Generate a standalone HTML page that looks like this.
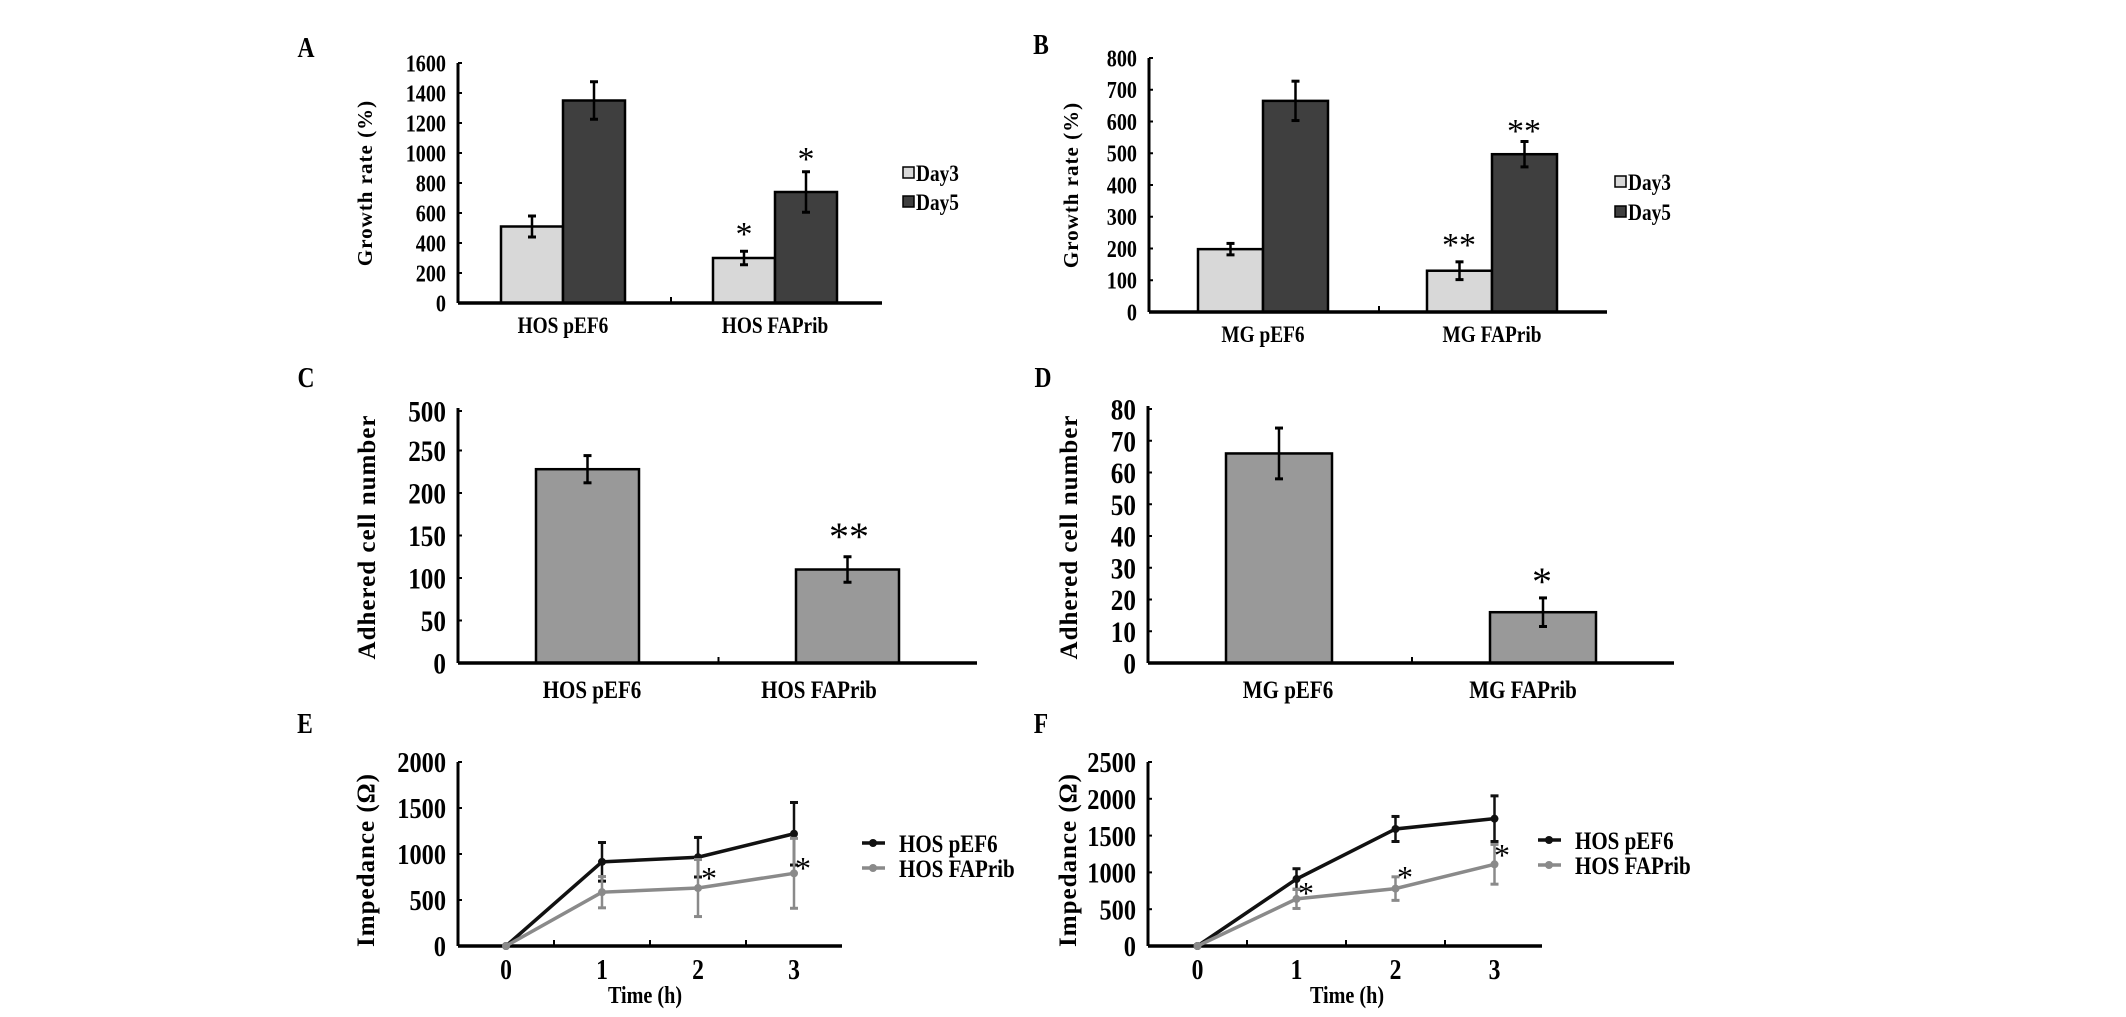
<!DOCTYPE html>
<html><head><meta charset="utf-8"><style>
html,body{margin:0;padding:0;background:#fff;}
svg{display:block;font-family:"Liberation Serif",serif;font-weight:bold;}
</style></head><body>
<svg id="fig" width="2126" height="1017" viewBox="0 0 2126 1017" xmlns="http://www.w3.org/2000/svg">
<text x="306" y="57" font-size="28" text-anchor="middle">A</text>
<text x="1041" y="54" font-size="28" text-anchor="middle">B</text>
<text x="306" y="387" font-size="28" text-anchor="middle">C</text>
<text x="1043" y="387" font-size="28" text-anchor="middle">D</text>
<text x="305" y="733" font-size="28" text-anchor="middle">E</text>
<text x="1041" y="733" font-size="28" text-anchor="middle">F</text>
</svg>
<script>
// ---- Panel A data ----
const aCategories = ["HOS pEF6", "HOS FAPrib"];
const aDay3 = [510, 300];
const aDay3Err = [70, 45];
const aDay5 = [1350, 740];
const aDay5Err = [125, 135];
const aTicks = [0, 200, 400, 600, 800, 1000, 1200, 1400, 1600];
// ---- Panel B data ----
const bCategories = ["MG pEF6", "MG FAPrib"];
const bDay3 = [198, 130];
const bDay3Err = [18, 28];
const bDay5 = [665, 497];
const bDay5Err = [62, 40];
const bTicks = [0, 100, 200, 300, 400, 500, 600, 700, 800];
// ---- Panel C data ----
const cCategories = ["HOS pEF6", "HOS FAPrib"];
const cValues = [228, 110];
const cErr = [16, 15];
const cTicks = [0, 50, 100, 150, 200, 250];
const cTickLabels = ["0", "50", "100", "150", "200", "250", "500"];
// ---- Panel D data ----
const dCategories = ["MG pEF6", "MG FAPrib"];
const dValues = [66, 16];
const dErr = [8, 4.5];
const dTicks = [0, 10, 20, 30, 40, 50, 60, 70, 80];
// ---- Panel E data ----
const eTimes = ["0", "1", "2", "3"];
const ePEF6 = [0, 915, 965, 1220];
const ePEF6Err = [0, 210, 215, 340];
const eFAPrib = [0, 585, 630, 790];
const eFAPribErr = [0, 170, 310, 380];
const eTicks = [0, 500, 1000, 1500, 2000];
// ---- Panel F data ----
const fTimes = ["0", "1", "2", "3"];
const fPEF6 = [0, 910, 1590, 1730];
const fPEF6Err = [0, 140, 170, 310];
const fFAPrib = [0, 640, 780, 1110];
const fFAPribErr = [0, 130, 160, 270];
const fTicks = [0, 500, 1000, 1500, 2000, 2500];

const NS = "http://www.w3.org/2000/svg";
const svg = document.getElementById('fig');
function mk(tag, attrs, parent) {
  const e = document.createElementNS(NS, tag);
  for (const k in attrs) e.setAttribute(k, attrs[k]);
  (parent || svg).appendChild(e);
  return e;
}
function txt(x, y, s, size, anchor, parent) {
  const t = mk('text', {x: x, y: y, 'font-size': size, 'text-anchor': anchor || 'middle'}, parent);
  t.textContent = s;
  return t;
}
function errBar(g, x, yTop, yBot, color) {
  const l = mk('line', {x1: x, x2: x, y1: yTop, y2: yBot, stroke: color || '#000', 'stroke-width': 2.5}, g);
  
  
  mk('line', {x1: x - 4, x2: x + 4, y1: yTop, y2: yTop, stroke: color || '#000', 'stroke-width': 3}, g);
  mk('line', {x1: x - 4, x2: x + 4, y1: yBot, y2: yBot, stroke: color || '#000', 'stroke-width': 3}, g);
}
function axes(g, x0, x1, yTop, yZero, tickYs, tickLabels, labelSize, xTickXs) {
  mk('line', {x1: x0, x2: x0, y1: yTop, y2: yZero, stroke: '#000', 'stroke-width': 3}, g);
  const xa = mk('line', {x1: x0, x2: x1, y1: yZero, y2: yZero, stroke: '#000', 'stroke-width': 3.5}, g);
  
  
  tickYs.forEach((y, i) => {
    mk('line', {x1: x0, x2: x0 + 4, y1: y, y2: y, stroke: '#000', 'stroke-width': 2}, g);
    const t = txt(x0 - 12, y + labelSize * 0.35, tickLabels[i], labelSize, 'end', g);
    
    
  });
  (xTickXs || []).forEach(x => mk('line', {x1: x, x2: x, y1: yZero, y2: yZero - 6, stroke: '#000', 'stroke-width': 2}, g));
}
function yTitle(g, x, y, s, size) {
  const t = mk('text', {x: 0, y: 0, 'font-size': size, 'text-anchor': 'middle', transform: `translate(${x},${y}) rotate(-90)`, 'letter-spacing': 1}, g);
  t.textContent = s;
  
  
  t.setAttribute('data-keep', '1');
}

// ---------- grouped bar panels ----------
function groupedPanel(name, cfg) {
  const g = mk('g', {});
  
  
  const y = v => cfg.yZero - (v / cfg.max) * (cfg.yZero - cfg.yTop);
  const series = [[cfg.d3, cfg.e3, '#d8d8d8', 'day3'], [cfg.d5, cfg.e5, '#3f3f3f', 'day5']];
  cfg.cats.forEach((c, i) => {
    const left = cfg.groupLeft[i];
    series.forEach((s, j) => {
      const x = left + j * cfg.bw;
      const r = mk('rect', {x: x, y: y(s[0][i]), width: cfg.bw, height: cfg.yZero - y(s[0][i]), fill: s[2], stroke: '#000', 'stroke-width': 2.5}, g);
      
      
      errBar(g, x + cfg.bw / 2, y(s[0][i] + s[1][i]), y(s[0][i] - s[1][i]));
    });
    const cl = txt(left + cfg.bw, cfg.catY, c, 23, 'middle', g);
    
    
  });
  axes(g, cfg.x0, cfg.x1, cfg.yTop, cfg.yZero, cfg.ticks.map(y), cfg.ticks.map(String), 24, [(cfg.x0 + cfg.x1) / 2 + 1]);
  yTitle(g, cfg.titleX, (cfg.yTop + cfg.yZero) / 2, 'Growth rate (%)', 21);
  cfg.stars.forEach(st => {
    const t = txt(st[0], st[1], st[2], 34, 'middle', g);
    t.setAttribute('font-weight', 'normal');
    
    
    t.setAttribute('data-keep', '1');
  });
  [['Day3', '#d8d8d8', cfg.legY[0]], ['Day5', '#3f3f3f', cfg.legY[1]]].forEach(l => {
    const lg = mk('g', {}, g);
    
    
    mk('rect', {x: cfg.legX, y: l[2] - 6, width: 11, height: 11, fill: l[1], stroke: '#000', 'stroke-width': 1.5}, lg);
    txt(cfg.legX + 13, l[2] + 8, l[0], 23, 'start', lg);
  });
}
groupedPanel('panel-a-chart', {cats: aCategories, d3: aDay3, e3: aDay3Err, d5: aDay5, e5: aDay5Err, ticks: aTicks, max: 1600,
  x0: 458, x1: 882, yTop: 63, yZero: 303, groupLeft: [501, 713], bw: 62, catY: 333, titleX: 372,
  stars: [[744, 245, '*'], [806, 170, '*']], legX: 903, legY: [173, 202]});
groupedPanel('panel-b-chart', {cats: bCategories, d3: bDay3, e3: bDay3Err, d5: bDay5, e5: bDay5Err, ticks: bTicks, max: 800,
  x0: 1149, x1: 1607, yTop: 58, yZero: 312, groupLeft: [1198, 1427], bw: 65, catY: 342, titleX: 1078,
  stars: [[1459, 256, '**'], [1524, 142, '**']], legX: 1615, legY: [182, 212]});

// ---------- single bar panels ----------
function singlePanel(name, cfg) {
  const g = mk('g', {});
  
  
  const y = v => cfg.yZero - v * cfg.k;
  cfg.cats.forEach((c, i) => {
    const r = mk('rect', {x: cfg.left[i], y: y(cfg.vals[i]), width: cfg.bw, height: cfg.yZero - y(cfg.vals[i]), fill: '#999999', stroke: '#000', 'stroke-width': 2.5}, g);
    
    
    errBar(g, cfg.left[i] + cfg.bw / 2, y(cfg.vals[i] + cfg.err[i]), y(cfg.vals[i] - cfg.err[i]));
    const cl = txt(cfg.catX[i], 698, c, 25, 'middle', g);
    
    
  });
  const tys = cfg.ticks.map(y);
  if (cfg.extraTickY) tys.push(cfg.extraTickY);
  axes(g, cfg.x0, cfg.x1, cfg.yTop, cfg.yZero, tys, cfg.labels, 30, [(cfg.x0 + cfg.x1) / 2 + 1]);
  yTitle(g, cfg.titleX, 537, 'Adhered cell number', 25);
  const t = txt(cfg.star[0], cfg.star[1], cfg.star[2], 40, 'middle', g);
  t.setAttribute('font-weight', 'normal');
  
  
  t.setAttribute('data-keep', '1');
}
singlePanel('panel-c-chart', {cats: cCategories, vals: cValues, err: cErr, ticks: cTicks, labels: cTickLabels, extraTickY: 411,
  k: 0.85, x0: 458, x1: 977, yTop: 408, yZero: 663, left: [536, 796], bw: 103, catX: [592, 819], titleX: 375,
  star: [849, 550, '**']});
singlePanel('panel-d-chart', {cats: dCategories, vals: dValues, err: dErr, ticks: dTicks, labels: dTicks.map(String),
  k: 3.175, x0: 1148, x1: 1674, yTop: 406, yZero: 663, left: [1226, 1490], bw: 106, catX: [1288, 1523], titleX: 1077,
  star: [1542, 595, '*']});

// ---------- line panels ----------
function linePanel(name, cfg) {
  const g = mk('g', {});
  
  
  const y = v => cfg.yZero - (v / cfg.max) * (cfg.yZero - cfg.yTop);
  const x = i => cfg.x0 + cfg.cw * (i + 0.5);
  const xticks = [1, 2, 3].map(i => cfg.x0 + cfg.cw * i);
  axes(g, cfg.x0, cfg.x1, cfg.yTop, cfg.yZero, cfg.ticks.map(y), cfg.ticks.map(String), 29, xticks);
  cfg.times.forEach((t, i) => {
    const l = txt(x(i), cfg.yZero + 33, t, 28, 'middle', g);
    
    
  });
  const xt = txt(cfg.timeX, 1003, 'Time (h)', 24, 'middle', g);
  
  
  yTitle(g, cfg.titleX, 860, 'Impedance (Ω)', 25);
  const series = [[cfg.p, cfg.pe, '#111', 'hos-pef6'], [cfg.f, cfg.fe, '#8a8a8a', 'hos-faprib']];
  series.forEach(s => {
    const pts = s[0].map((v, i) => x(i) + ',' + y(v)).join(' ');
    const pl = mk('polyline', {points: pts, fill: 'none', stroke: s[2], 'stroke-width': 3.5}, g);
    
    
    s[0].forEach((v, i) => {
      if (s[1][i] > 0) errBar(g, x(i), y(v + s[1][i]), y(v - s[1][i]), s[2]);
      const m = mk('circle', {cx: x(i), cy: y(v), r: 4, fill: s[2]}, g);
      
      
    });
  });
  cfg.stars.forEach(st => {
    const t = txt(st[0], st[1], '*', 32, 'middle', g);
    t.setAttribute('font-weight', 'normal');
    
    
    t.setAttribute('data-keep', '1');
  });
  [['HOS pEF6', '#111', cfg.legY[0]], ['HOS FAPrib', '#8a8a8a', cfg.legY[1]]].forEach(l => {
    const lg = mk('g', {}, g);
    
    
    mk('line', {x1: cfg.legX, x2: cfg.legX + 23, y1: l[2], y2: l[2], stroke: l[1], 'stroke-width': 3.5}, lg);
    mk('circle', {cx: cfg.legX + 11, cy: l[2], r: 4, fill: l[1]}, lg);
    txt(cfg.legX + 37, l[2] + 9, l[0], 25, 'start', lg);
  });
}
linePanel('panel-e-chart', {times: eTimes, p: ePEF6, pe: ePEF6Err, f: eFAPrib, fe: eFAPribErr, ticks: eTicks, max: 2000,
  x0: 458, x1: 842, cw: 96, yTop: 762, yZero: 946, titleX: 374, timeX: 645,
  stars: [[709, 889], [803, 879]], legX: 862, legY: [843, 868]});
linePanel('panel-f-chart', {times: fTimes, p: fPEF6, pe: fPEF6Err, f: fFAPrib, fe: fFAPribErr, ticks: fTicks, max: 2500,
  x0: 1148, x1: 1542, cw: 99, yTop: 762, yZero: 946, titleX: 1076, timeX: 1347,
  stars: [[1306, 904], [1405, 888], [1502, 866]], legX: 1538, legY: [840, 865]});

// condense text horizontally like the reference's narrow bold serif
svg.querySelectorAll('text').forEach(t => {
  if (t.getAttribute('data-keep')) return;
  const w = t.getComputedTextLength();
  if (w > 0) {
    t.setAttribute('textLength', (w * 0.84).toFixed(1));
    t.setAttribute('lengthAdjust', 'spacingAndGlyphs');
  }
});
</script>
</body></html>
